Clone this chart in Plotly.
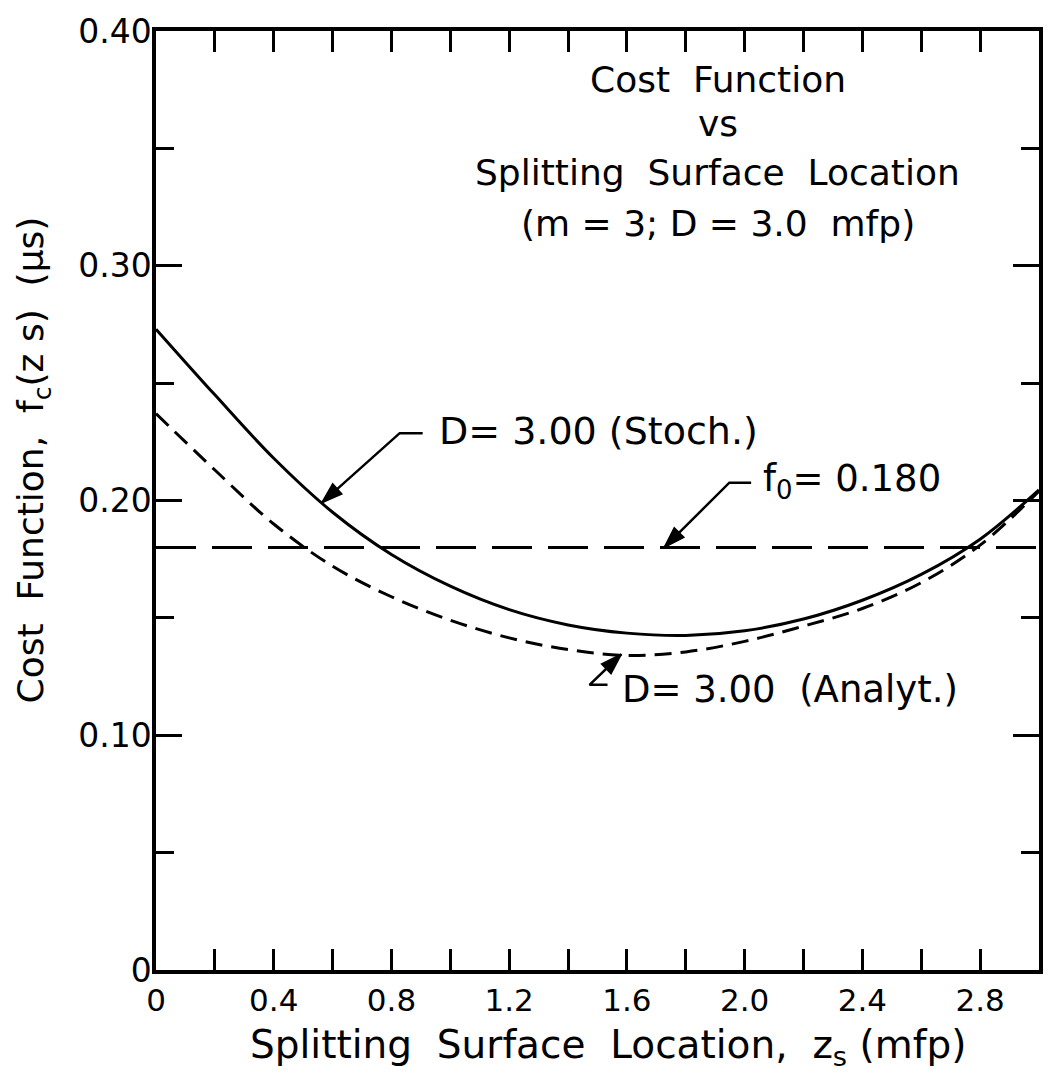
import plotly.graph_objects as go

# Splitting surface location z_s (mfp)
z_stoch = [0.0, 0.2, 0.4, 0.6, 0.8, 1.0, 1.2, 1.4, 1.6, 1.8, 2.0, 2.2, 2.4, 2.6, 2.8, 3.0]
# Cost function from stochastic estimate (us)
f_stoch = [0.273, 0.245, 0.218, 0.195, 0.177, 0.1635, 0.1535, 0.147, 0.1435, 0.1425,
           0.1445, 0.1495, 0.1575, 0.1685, 0.1835, 0.2045]

z_analyt = [0.0, 0.2, 0.4, 0.6, 0.8, 1.0, 1.2, 1.4, 1.6, 1.8, 2.0, 2.2, 2.4, 2.6, 2.8, 3.0]
# Cost function from analytic expression (us)
f_analyt = [0.237, 0.213, 0.190, 0.172, 0.159, 0.149, 0.1415, 0.1365, 0.134, 0.1355,
            0.140, 0.1465, 0.154, 0.165, 0.181, 0.204]

# Reference cost without splitting
f0 = 0.180

x_major = [0.0, 0.4, 0.8, 1.2, 1.6, 2.0, 2.4, 2.8]
x_labels = ["0", "0.4", "0.8", "1.2", "1.6", "2.0", "2.4", "2.8"]
y_major = [0.0, 0.10, 0.20, 0.30, 0.40]
y_labels = ["0", "0.10", "0.20", "0.30", "0.40"]

FONT = "DejaVu Sans"
INK = "black"

fig = go.Figure()

fig.add_trace(go.Scatter(
    x=[0.0, 3.0], y=[f0, f0], mode="lines",
    line=dict(color=INK, width=3, dash="40px,16px"), hoverinfo="skip"))
fig.add_trace(go.Scatter(
    x=z_analyt, y=f_analyt, mode="lines", line_shape="spline",
    line=dict(color=INK, width=3, dash="17px,9px"), hoverinfo="skip"))
fig.add_trace(go.Scatter(
    x=z_stoch, y=f_stoch, mode="lines", line_shape="spline",
    line=dict(color=INK, width=3), hoverinfo="skip"))

annotations = []

# Title block
title_lines = [("Cost  Function", 0.9485), ("vs", 0.9015), ("Splitting  Surface  Location", 0.849),
               ("(m = 3; D = 3.0  mfp)", 0.7955)]
for txt, yp in title_lines:
    annotations.append(dict(text=txt, x=0.636, y=yp, xref="paper", yref="paper",
                            showarrow=False, xanchor="center", yanchor="middle",
                            font=dict(family=FONT, size=36, color=INK)))


def leader(label, tip_x, tip_y, tail_x, tail_y, elbow_x, text_x, text_y, size):
    # elbow stroke, diagonal leader and arrowhead aimed at the curve
    fig.add_trace(go.Scatter(
        x=[elbow_x, tail_x, tip_x], y=[tail_y, tail_y, tip_y], mode="lines+markers",
        line=dict(color=INK, width=2.5),
        marker=dict(symbol=["circle", "circle", "arrow"], size=[0, 0, 22], color=INK,
                    opacity=1, angleref="previous", line=dict(width=1.5, color=INK)),
        hoverinfo="skip"))
    annotations.append(dict(text=label, x=text_x, y=text_y, xref="x", yref="y",
                            showarrow=False, xanchor="left", yanchor="middle",
                            font=dict(family=FONT, size=size, color=INK)))


leader("D= 3.00 (Stoch.)", 0.563, 0.199, 0.828, 0.2287, 0.906, 0.955, 0.2295, 38)
leader("f<sub>0</sub>= 0.180", 1.727, f0, 1.948, 0.2076, 2.022, 2.055, 0.2085, 37)
leader("D= 3.00  (Analyt.)", 1.581, 0.1345, 1.473, 0.1215, 1.534, 1.575, 0.1195, 37)

# Axis titles
annotations.append(dict(text="Splitting  Surface  Location,  z<sub>s</sub> (mfp)",
                        x=0.512, y=-0.082, xref="paper", yref="paper", showarrow=False,
                        xanchor="center", yanchor="middle",
                        font=dict(family=FONT, size=39, color=INK)))
annotations.append(dict(text="Cost  Function,  f<sub>c</sub>(z s)  (\u03bcs)",
                        x=-0.139, y=0.543, xref="paper", yref="paper", showarrow=False,
                        textangle=-90, xanchor="center", yanchor="middle",
                        font=dict(family=FONT, size=36, color=INK)))

axis_common = dict(showline=True, linecolor=INK, linewidth=3.5, mirror="ticks",
                   ticks="inside", tickwidth=2.5, tickcolor=INK,
                   showgrid=False, zeroline=False, fixedrange=True)

fig.update_layout(
    width=1055, height=1076,
    margin=dict(l=156, r=15, t=22, b=106),
    paper_bgcolor="white", plot_bgcolor="white",
    showlegend=False,
    xaxis=dict(range=[0, 3.0], tickmode="array", tickvals=x_major, ticktext=x_labels,
               ticklen=21,
               minor=dict(dtick=0.2, tick0=0, ticks="inside", ticklen=21, tickwidth=2.5,
                          tickcolor=INK, showgrid=False),
               tickfont=dict(family=FONT, size=31, color=INK), **axis_common),
    yaxis=dict(range=[0, 0.40], tickmode="array", tickvals=y_major, ticktext=y_labels,
               ticklen=26, ticklabelstandoff=-6,
               minor=dict(dtick=0.05, tick0=0, ticks="inside", ticklen=18, tickwidth=2.5,
                          tickcolor=INK, showgrid=False),
               tickfont=dict(family=FONT, size=33, color=INK), **axis_common),
    annotations=annotations,
)

fig.write_html("out.html")
